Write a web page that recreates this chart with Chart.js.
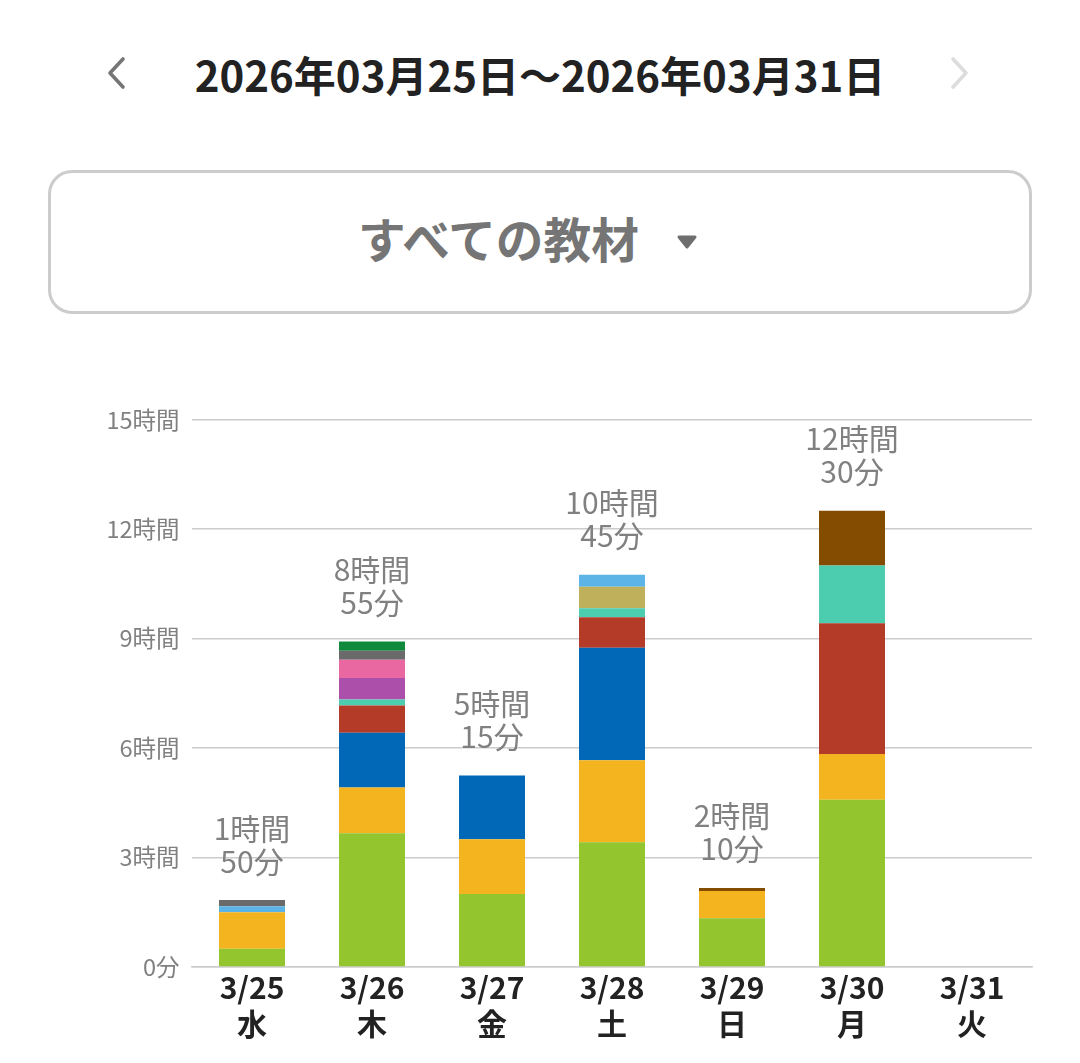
<!DOCTYPE html>
<html lang="ja">
<head>
<meta charset="utf-8">
<title>学習時間</title>
<script src="https://cdn.jsdelivr.net/npm/chart.js@4/dist/chart.umd.min.js"></script>
<style>
  html, body { margin: 0; padding: 0; background: #fff; }
  body { width: 1080px; height: 1063px; position: relative; overflow: hidden; font-family: "Noto Sans CJK JP", "Noto Sans", sans-serif; }
  .period { position: absolute; left: 0; top: 44px; width: 1080px; height: 60px; line-height: 60px; text-align: center; font-size: 42px; font-weight: 700; color: #222; }
  .arrow { position: absolute; top: 56px; }
  .arrow--prev { left: 104px; }
  .arrow--next { left: 948px; }
  .select { position: absolute; left: 48px; top: 170px; width: 978px; height: 138px; border: 3px solid #ccc; border-radius: 24px; }
  .select__label { position: absolute; left: 358px; top: 203px; height: 70px; line-height: 70px; font-size: 47.7px; font-weight: 700; color: #757575; white-space: nowrap; }
  .select__caret { position: absolute; left: 675px; top: 234px; }
  .chart-wrap { position: absolute; left: 0; top: 393px; width: 1080px; height: 670px; }
</style>
</head>
<body>
<svg class="arrow arrow--prev" width="24" height="34" viewBox="0 0 24 34"><path d="M19 3 L6 17 L19 31" fill="none" stroke="#757575" stroke-width="3.6" stroke-linecap="round" stroke-linejoin="round"/></svg>
<div class="period">2026年03月25日～2026年03月31日</div>
<svg class="arrow arrow--next" width="24" height="34" viewBox="0 0 24 34"><path d="M5 3 L18 17 L5 31" fill="none" stroke="#dcdcdc" stroke-width="3.6" stroke-linecap="round" stroke-linejoin="round"/></svg>
<div class="select"></div>
<div class="select__label">すべての教材</div>
<svg class="select__caret" width="24" height="16" viewBox="0 0 24 16"><path d="M4 3 H20 L12 13 Z" fill="#6f6f6f" stroke="#6f6f6f" stroke-width="3" stroke-linejoin="round"/></svg>
<div class="chart-wrap"><canvas id="chart"></canvas></div>
<script>
const days = ["3/25", "3/26", "3/27", "3/28", "3/29", "3/30", "3/31"];
const weekdays = ["水", "木", "金", "土", "日", "月", "火"];

// minutes per material, bottom of the stack first
const green = [30, 220, 120, 205, 80, 275, 0];
const orange = [60, 75, 90, 135, 45, 75, 0];
const blue = [0, 90, 105, 185, 0, 0, 0];
const red = [0, 45, 0, 50, 0, 215, 0];
const teal = [0, 10, 0, 15, 0, 95, 0];
const purple = [0, 35, 0, 0, 0, 0, 0];
const pink = [0, 30, 0, 0, 0, 0, 0];
const khaki = [0, 0, 0, 35, 0, 0, 0];
const skyBlue = [10, 0, 0, 20, 0, 0, 0];
const gray = [10, 15, 0, 0, 0, 0, 0];
const darkGreen = [0, 15, 0, 0, 0, 0, 0];
const brown = [0, 0, 0, 0, 5, 90, 0];

const totalLabels = [["1時間", "50分"], ["8時間", "55分"], ["5時間", "15分"], ["10時間", "45分"], ["2時間", "10分"], ["12時間", "30分"], null];

const font = '"Noto Sans CJK JP", "Noto Sans", sans-serif';
const dataset = (data, color) => ({ data, backgroundColor: color, borderWidth: 0, barPercentage: 0.55, categoryPercentage: 1 });

const totalsPlugin = {
  id: "totals",
  afterDatasetsDraw(chart) {
    const { ctx, scales, data } = chart;
    ctx.save();
    ctx.font = `400 30px ${font}`;
    ctx.fillStyle = "#808080";
    ctx.textAlign = "center";
    ctx.textBaseline = "middle";
    totalLabels.forEach((lines, i) => {
      if (!lines) return;
      const total = data.datasets.reduce((sum, ds) => sum + ds.data[i], 0);
      const x = scales.x.getPixelForValue(i);
      const top = scales.y.getPixelForValue(total);
      ctx.fillText(lines[0], x, top - 72);
      ctx.fillText(lines[1], x, top - 39);
    });
    ctx.restore();
  },
};

new Chart(document.getElementById("chart"), {
  type: "bar",
  plugins: [totalsPlugin],
  data: {
    labels: days.map((day, i) => [day, weekdays[i]]),
    datasets: [
      dataset(green, "#93c52f"),
      dataset(orange, "#f4b41f"),
      dataset(blue, "#0068b7"),
      dataset(red, "#b43b27"),
      dataset(teal, "#4dcdb0"),
      dataset(purple, "#ac4fab"),
      dataset(pink, "#ea68a2"),
      dataset(khaki, "#bfb05c"),
      dataset(skyBlue, "#5bb4e5"),
      dataset(gray, "#6a6a6a"),
      dataset(darkGreen, "#0f8a3c"),
      dataset(brown, "#844c00"),
    ],
  },
  options: {
    responsive: true,
    maintainAspectRatio: false,
    animation: false,
    layout: { padding: { top: 13, right: 48, left: 0, bottom: 0 } },
    plugins: { legend: { display: false }, tooltip: { enabled: false } },
    scales: {
      x: {
        stacked: true,
        afterFit(scale) { scale.height = 96; },
        grid: { display: false },
        border: { color: "#cccccc", width: 1.5 },
        ticks: {
          color: "#222222",
          maxRotation: 0,
          padding: -5,
          font: { family: font, size: 30, weight: "700", lineHeight: 1.2 },
        },
      },
      y: {
        stacked: true,
        min: 0,
        max: 900,
        afterFit(scale) { scale.width = 192; },
        grid: { color: "#cccccc", lineWidth: 1.5, drawTicks: false },
        border: { display: false },
        ticks: {
          stepSize: 180,
          padding: 12.5,
          color: "#808080",
          font: { family: font, size: 23.5, weight: "400" },
          callback: (value) => (value === 0 ? "0分" : `${value / 60}時間`),
        },
      },
    },
  },
});
</script>
</body>
</html>
